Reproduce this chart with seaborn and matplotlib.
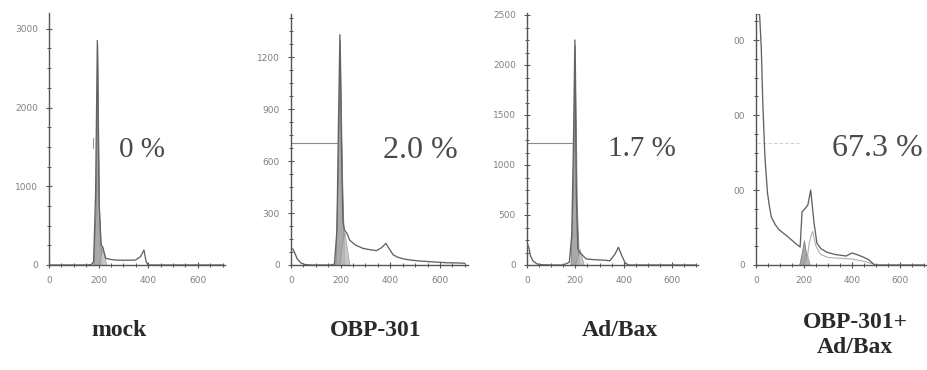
import matplotlib
matplotlib.use("Agg")
import matplotlib.pyplot as plt
import seaborn as sns
import pandas as pd
from matplotlib.ticker import MultipleLocator, AutoMinorLocator

sns.set_style("ticks")
plt.rcParams['font.family'] = ['DejaVu Sans']

# ---------------- data ----------------
panel_names = ["mock", "OBP-301", "Ad/Bax", "OBP-301+\nAd/Bax"]
percent_labels = ["0 %", "2.0 %", "1.7 %", "67.3 %"]

mock_ch = [0, 50, 100, 150, 170, 180, 188, 195, 202, 210, 216, 229, 250, 269, 300, 349, 369, 383, 392, 400, 450, 500, 600, 700]
mock_ct = [0, 0, 0, 0, 5, 40, 900, 2850, 800, 260, 232, 84, 70, 63, 60, 63, 105, 190, 42, 0, 0, 0, 0, 0]
mock_g1_ch = [178, 188, 195, 202, 212]
mock_g1_ct = [0, 700, 2800, 700, 0]
mock_sh_ch = [200, 210, 216, 224, 232]
mock_sh_ct = [0, 150, 230, 100, 0]

obp_ch = [0, 8, 15, 25, 40, 55, 80, 120, 160, 175, 185, 191, 197, 203, 209, 216, 226, 236, 260, 290, 320, 344, 365, 382, 395, 412, 430, 453, 490, 520, 570, 628, 670, 700]
obp_ct = [95, 92, 70, 35, 12, 3, 0, 0, 0, 5, 200, 800, 1330, 700, 250, 200, 182, 144, 115, 96, 88, 83, 100, 125, 95, 58, 45, 35, 27, 23, 18, 13, 12, 10]
obp_g1_ch = [178, 188, 197, 206, 215]
obp_g1_ct = [0, 500, 1300, 500, 0]
obp_sh_ch = [195, 205, 215, 225, 235]
obp_sh_ct = [0, 120, 190, 100, 0]

adbax_ch = [0, 3, 8, 14, 25, 42, 60, 100, 150, 175, 185, 192, 198, 204, 210, 220, 231, 245, 280, 320, 343, 364, 378, 392, 406, 420, 500, 600, 700]
adbax_ct = [210, 205, 170, 93, 40, 10, 3, 0, 0, 27, 300, 1200, 2250, 700, 160, 120, 93, 60, 53, 48, 43, 110, 177, 93, 20, 0, 0, 0, 0]
adbax_g1_ch = [180, 190, 198, 206, 215]
adbax_g1_ct = [0, 800, 2200, 600, 0]
adbax_sh_ch = [200, 210, 218, 226, 235]
adbax_sh_ct = [0, 100, 160, 80, 0]

combo_ch = [8, 15, 22, 28, 36, 40, 48, 56, 64, 80, 96, 112, 128, 146, 164, 184, 192, 204, 216, 228, 242, 254, 270, 296, 330, 376, 400, 420, 444, 470, 484, 496, 540, 600, 700]
combo_ct = [335, 334, 290, 220, 153, 131, 96, 78, 64, 54, 47, 43, 39, 34, 29, 24, 71, 75, 80, 100, 56, 29, 22, 17, 14, 12, 16, 14, 11, 7, 3, 0, 0, 0, 0]
combo_g1_ch = [180, 190, 200, 210, 220]
combo_g1_ct = [0, 15, 33, 12, 0]
combo_sh_ch = [198, 206, 212, 218, 225]
combo_sh_ct = [0, 8, 15, 8, 0]
combo_fit_ch = [210, 222, 236, 250, 270, 300, 350, 400, 450, 500]
combo_fit_ct = [0, 30, 45, 25, 14, 10, 9, 8, 5, 0]

yticks_list = [[0, 1000, 2000, 3000], [0, 300, 600, 900, 1200],
               [0, 500, 1000, 1500, 2000, 2500], [0, 100, 200, 300]]
ytick_labels = [["0", "1000", "2000", "3000"], ["0", "300", "600", "900", "1200"],
                ["0", "500", "1000", "1500", "2000", "2500"], ["0", "00", "00", "00"]]
xticks = [0, 200, 400, 600]

# ---------------- layout ----------------
W, H = 928, 370
fig = plt.figure(figsize=(W / 100, H / 100), dpi=100)

boxes = [(49, 225, 265, 13), (291, 468, 265, 14), (527, 698, 265, 13), (756, 928, 265, 14)]
xlims = [(0, 710), (0, 713), (0, 707), (0, 717)]
ylims = [(0, 3200), (0, 1450), (0, 2520), (0, 335)]

series = [
    (mock_ch, mock_ct, mock_g1_ch, mock_g1_ct, mock_sh_ch, mock_sh_ct),
    (obp_ch, obp_ct, obp_g1_ch, obp_g1_ct, obp_sh_ch, obp_sh_ct),
    (adbax_ch, adbax_ct, adbax_g1_ch, adbax_g1_ct, adbax_sh_ch, adbax_sh_ct),
    (combo_ch, combo_ct, combo_g1_ch, combo_g1_ct, combo_sh_ch, combo_sh_ct),
]

line_col = "#626262"
axis_col = "#555555"

axes = []
for i, (l, r, b, t) in enumerate(boxes):
    ax = fig.add_axes([l / W, 1 - b / H, (r - l) / W, (b - t) / H])
    axes.append(ax)
    ch, ct, gch, gct, sch, sct = series[i]
    ax.fill_between(gch, gct, color="#9a9a9a", alpha=0.85, lw=0.6, edgecolor="#707070", zorder=2)
    ax.fill_between(sch, sct, color="#bcbcbc", alpha=0.8, lw=0.5, edgecolor="#8a8a8a", zorder=2)
    df = pd.DataFrame({"channel": ch, "count": ct})
    sns.lineplot(data=df, x="channel", y="count", ax=ax, color=line_col, lw=0.95, zorder=3)
    ax.set_xlim(*xlims[i])
    ax.set_ylim(*ylims[i])
    ax.set_xlabel("")
    ax.set_ylabel("")
    ax.set_xticks(xticks)
    ax.set_xticklabels([str(v) for v in xticks])
    ax.set_yticks(yticks_list[i])
    ax.set_yticklabels(ytick_labels[i])
    ax.xaxis.set_minor_locator(MultipleLocator(50))
    ax.yaxis.set_minor_locator(AutoMinorLocator(4))
    ax.tick_params(which="major", direction="inout", length=4, width=0.8, colors=axis_col,
                   labelsize=6.5, labelcolor="#808080", pad=6)
    ax.tick_params(which="minor", direction="inout", length=2.5, width=0.7, colors=axis_col)
    for s in ["top", "right"]:
        ax.spines[s].set_visible(False)
    for s in ["left", "bottom"]:
        ax.spines[s].set_color(axis_col)
        ax.spines[s].set_linewidth(1.0)
    ax.patch.set_alpha(0)

# extra fitted curve in combination panel
sns.lineplot(x=combo_fit_ch, y=combo_fit_ct, ax=axes[3], color="#b0b0b0", lw=0.8, zorder=2)

# gate markers
axes[0].plot([177, 177], [1490, 1610], color="#9a9a9a", lw=0.8)
axes[1].plot([0, 185], [704, 704], color="#8a8a8a", lw=0.8)
axes[2].plot([0, 185], [1220, 1220], color="#8a8a8a", lw=0.8)
axes[3].plot([5, 185], [163, 163], color="#d0d0d0", lw=0.8, ls=(0, (3, 2)))

# percent labels
pct_pos = [(142, 150), (420, 150), (642, 149), (877, 148)]
pct_size = [21, 23, 21, 23]
for (x, y), txt, fs in zip(pct_pos, percent_labels, pct_size):
    fig.text(x / W, 1 - y / H, txt, ha="center", va="center", fontsize=fs,
             family=["Liberation Serif"], color="#4a4a4a")

# bottom labels
name_pos = [(119, 331), (376, 331), (620, 331), (855, 335)]
for (x, y), txt in zip(name_pos, panel_names):
    fig.text(x / W, 1 - y / H, txt, ha="center", va="center", fontsize=17,
             family=["Liberation Serif"], fontweight="bold", color="#2a2a2a",
             linespacing=1.25)

fig.savefig("out.png", dpi=100)
